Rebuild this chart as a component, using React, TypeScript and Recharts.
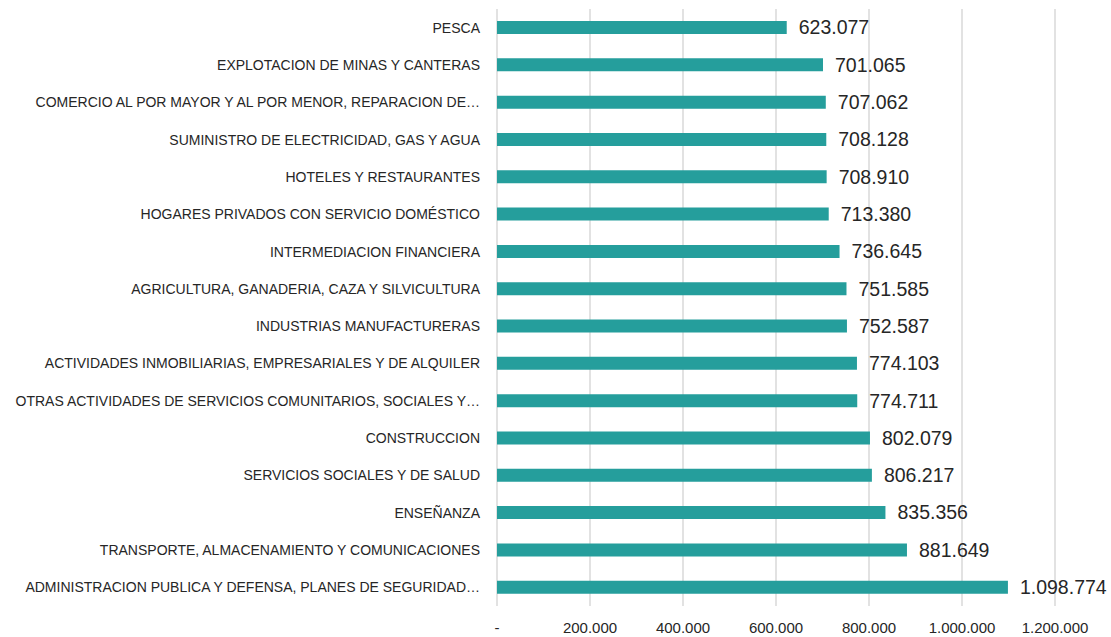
import React from "react";
import { BarChart, Bar, XAxis, YAxis, CartesianGrid, LabelList } from "recharts";

const sectors = [
  "PESCA",
  "EXPLOTACION DE MINAS Y CANTERAS",
  "COMERCIO AL POR MAYOR Y AL POR MENOR, REPARACION DE…",
  "SUMINISTRO DE ELECTRICIDAD, GAS Y AGUA",
  "HOTELES Y RESTAURANTES",
  "HOGARES PRIVADOS CON SERVICIO DOMÉSTICO",
  "INTERMEDIACION FINANCIERA",
  "AGRICULTURA, GANADERIA, CAZA Y SILVICULTURA",
  "INDUSTRIAS MANUFACTURERAS",
  "ACTIVIDADES INMOBILIARIAS, EMPRESARIALES Y DE ALQUILER",
  "OTRAS ACTIVIDADES DE SERVICIOS COMUNITARIOS, SOCIALES Y…",
  "CONSTRUCCION",
  "SERVICIOS SOCIALES Y DE SALUD",
  "ENSEÑANZA",
  "TRANSPORTE, ALMACENAMIENTO Y COMUNICACIONES",
  "ADMINISTRACION PUBLICA Y DEFENSA, PLANES DE SEGURIDAD…",
];

const values = [
  623077, 701065, 707062, 708128, 708910, 713380, 736645, 751585, 752587,
  774103, 774711, 802079, 806217, 835356, 881649, 1098774,
];

const xTicks = [0, 200000, 400000, 600000, 800000, 1000000, 1200000];

const data = sectors.map((name, i) => ({ name, value: values[i] }));

const fmt = (v: number) =>
  v === 0 ? "-" : Math.round(v).toString().replace(/\B(?=(\d{3})+(?!\d))/g, ".");

const font = "'Liberation Sans', Arial, sans-serif";

function SectorTick(props: any) {
  const { x, y, payload } = props;
  return (
    <text x={x} y={y} dy={5} textAnchor="end" fontSize={14} fill="#262626" fontFamily={font}>
      {payload.value}
    </text>
  );
}

export default function App() {
  return (
    <div style={{ position: "absolute", left: 0, top: 0, background: "#fff" }}>
      <BarChart
        width={1111}
        height={637}
        data={data}
        layout="vertical"
        margin={{ top: 9, right: 56, bottom: 0, left: 0 }}
      >
        <CartesianGrid horizontal={false} stroke="#d9d9d9" strokeWidth={1.5} />
        <XAxis
          type="number"
          domain={[0, 1200000]}
          ticks={xTicks}
          tickFormatter={fmt}
          axisLine={false}
          tickLine={false}
          tickSize={0}
          tickMargin={16}
          height={31}
          interval={0}
          tick={{ fontSize: 15, fill: "#262626", fontFamily: font }}
        />
        <YAxis
          type="category"
          dataKey="name"
          width={497}
          axisLine={false}
          tickLine={false}
          tickSize={0}
          tickMargin={17}
          interval={0}
          tick={<SectorTick />}
        />
        <Bar dataKey="value" fill="#259e9c" barSize={13} isAnimationActive={false}>
          <LabelList
            dataKey="value"
            position="right"
            offset={12}
            formatter={(v: any) => fmt(Number(v))}
            style={{ fontSize: 19.5, fill: "#262626", fontFamily: font }}
          />
        </Bar>
      </BarChart>
    </div>
  );
}
